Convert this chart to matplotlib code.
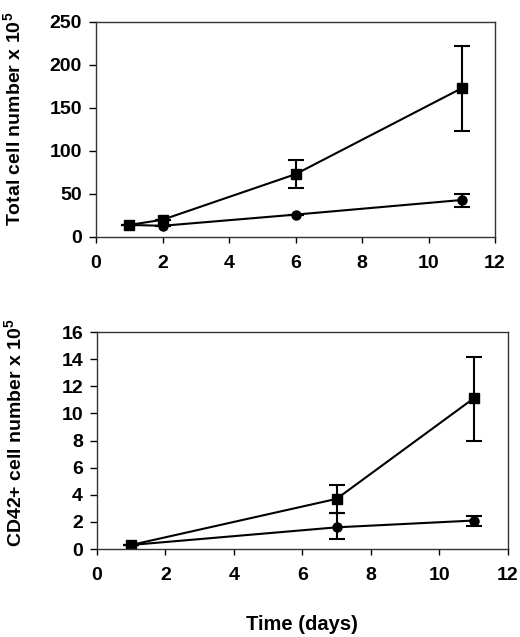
import matplotlib
matplotlib.use("Agg")
import matplotlib.pyplot as plt

plt.rcParams['font.family'] = ['Liberation Sans', 'DejaVu Sans']
plt.rcParams['font.weight'] = 'bold'
plt.rcParams['mathtext.fontset'] = 'custom'
plt.rcParams['mathtext.rm'] = 'Liberation Sans:bold'
plt.rcParams['mathtext.bf'] = 'Liberation Sans:bold'

# Top panel: total cell number x 10^5
top_days_sq = [1, 2, 6, 11]
top_sq = [14, 20, 73, 173]
top_sq_err_lo = [0, 0, 16, 50]
top_sq_err_hi = [0, 0, 16, 49]
top_days_ci = [1, 2, 6, 11]
top_ci = [14, 13, 26, 43]
top_ci_err_lo = [0, 0, 0, 8]
top_ci_err_hi = [0, 0, 0, 7]

# Bottom panel: CD42+ cell number x 10^5
bot_days_sq = [1, 7, 11]
bot_sq = [0.3, 3.7, 11.1]
bot_sq_err_lo = [0, 1.05, 3.1]
bot_sq_err_hi = [0, 1.05, 3.05]
bot_days_ci = [1, 7, 11]
bot_ci = [0.3, 1.6, 2.1]
bot_ci_err_lo = [0, 0.85, 0.38]
bot_ci_err_hi = [0, 1.05, 0.36]

fig = plt.figure(figsize=(5.2, 6.37), dpi=100)
ax1 = fig.add_axes([0.1846, 0.628, 0.7674, 0.3375])
ax2 = fig.add_axes([0.1865, 0.1381, 0.790, 0.3407])

def style(ax):
    for s in ax.spines.values():
        s.set_color('#333333')
        s.set_linewidth(1.0)
    ax.tick_params(direction='out', width=1, colors='black', labelsize=14)
    ax.tick_params(axis='x', length=4, pad=9)
    ax.tick_params(axis='y', length=5, pad=5)
    ax.set_xlim(0, 12)
    ax.set_xticks(range(0, 13, 2))

def draw(ax, xs, ys, lo, hi, marker, ms):
    ax.errorbar(xs, ys, yerr=[lo, hi], color='black', lw=1.5, marker=marker,
                ms=ms, capsize=6, capthick=1.5, elinewidth=1.5)

draw(ax1, top_days_sq, top_sq, top_sq_err_lo, top_sq_err_hi, 's', 6.5)
draw(ax1, top_days_ci, top_ci, top_ci_err_lo, top_ci_err_hi, 'o', 6.5)
style(ax1)
ax1.set_ylim(0, 250)
ax1.set_yticks(range(0, 251, 50))
ax1.set_ylabel(r'Total cell number x 10$^{5}$', fontsize=14, fontweight='bold')
ax1.yaxis.set_label_coords(-0.178, 0.55)

draw(ax2, bot_days_sq, bot_sq, bot_sq_err_lo, bot_sq_err_hi, 's', 6.5)
draw(ax2, bot_days_ci, bot_ci, bot_ci_err_lo, bot_ci_err_hi, 'o', 6.5)
style(ax2)
ax2.set_ylim(0, 16)
ax2.set_yticks(range(0, 17, 2))
ax2.set_ylabel(r'CD42+ cell number x 10$^{5}$', fontsize=14, fontweight='bold')
ax2.yaxis.set_label_coords(-0.173, 0.535)
ax2.set_xlabel('Time (days)', fontsize=14.5, fontweight='bold', labelpad=22)

fig.savefig('out.png', dpi=100)
